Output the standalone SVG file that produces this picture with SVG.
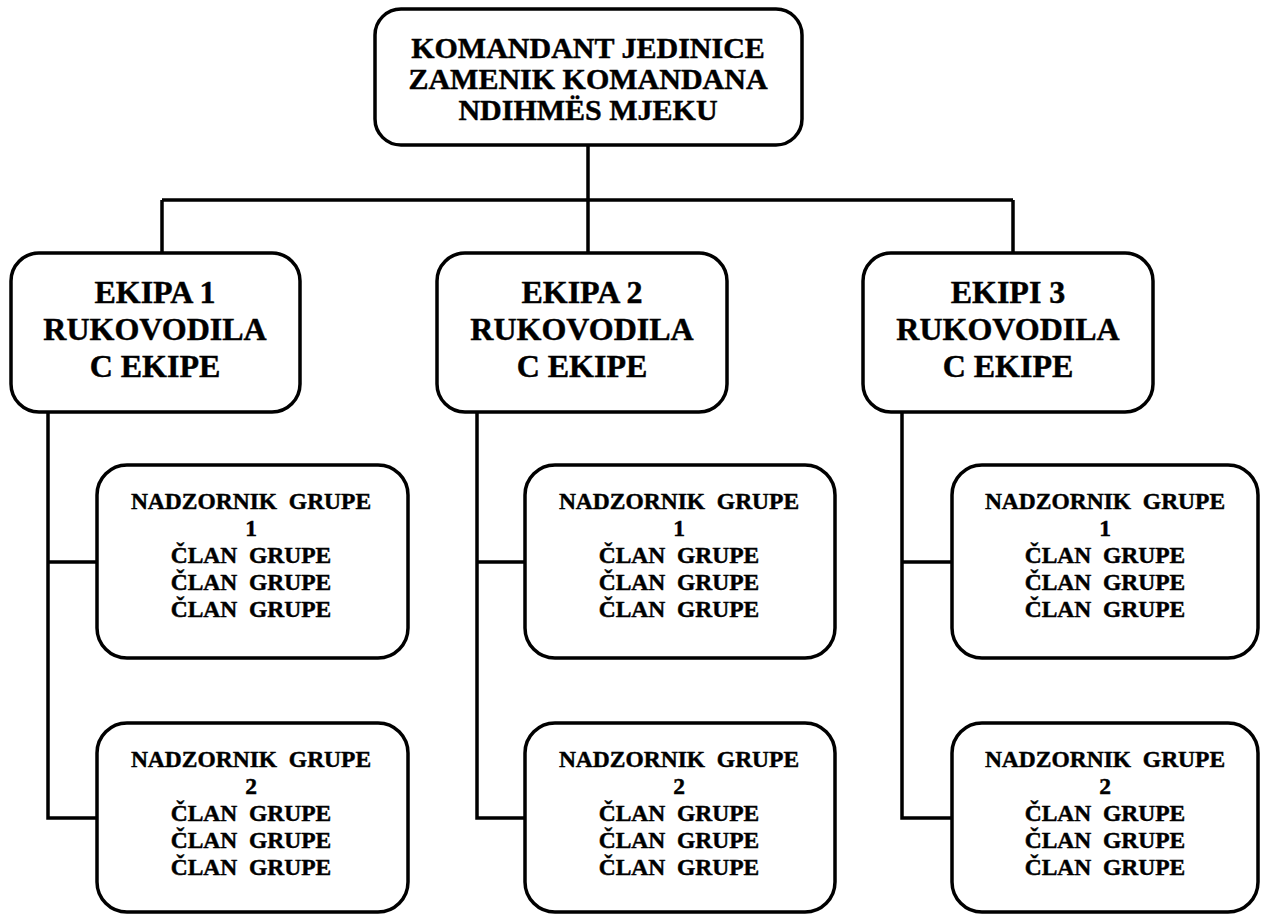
<svg xmlns="http://www.w3.org/2000/svg" width="1261" height="915" viewBox="0 0 1261 915">
<style>
.box{fill:#fff;stroke:#000;stroke-width:3.5}
.ln{fill:none;stroke:#000;stroke-width:3.5}
text{font-family:"Liberation Serif","Times New Roman",serif;font-weight:bold;fill:#000;stroke:#000;stroke-width:0.45;text-anchor:middle}
.t0{font-size:30px}
.t1{font-size:32px}
.t2{font-size:23.5px}
</style>
<g id="connectors">
<path class="ln" d="M588 145V200M162 200H1013M162 200V253M588 200V253M1013 200V253"/>
<path class="ln" d="M48 412V818H97M48 562H97"/>
<path class="ln" d="M477 412V818H525M477 562H525"/>
<path class="ln" d="M902 412V818H952M902 562H952"/>
</g>
<g id="top">
<rect class="box" x="375" y="9" width="427" height="136" rx="26"/>
<text class="t0" x="588" y="58">KOMANDANT JEDINICE</text>
<text class="t0" x="588" y="89">ZAMENIK KOMANDANA</text>
<text class="t0" x="588" y="120">NDIHMËS MJEKU</text>
</g>
<g id="ekipa1">
<rect class="box" x="11" y="253" width="289" height="159" rx="28"/>
<text class="t1" x="155" y="303">EKIPA 1</text>
<text class="t1" x="155" y="340">RUKOVODILA</text>
<text class="t1" x="155" y="377">C EKIPE</text>
</g>
<g id="ekipa2">
<rect class="box" x="437" y="253" width="290" height="159" rx="28"/>
<text class="t1" x="582" y="303">EKIPA 2</text>
<text class="t1" x="582" y="340">RUKOVODILA</text>
<text class="t1" x="582" y="377">C EKIPE</text>
</g>
<g id="ekipa3">
<rect class="box" x="863" y="253" width="290" height="159" rx="28"/>
<text class="t1" x="1008" y="303">EKIPI 3</text>
<text class="t1" x="1008" y="340">RUKOVODILA</text>
<text class="t1" x="1008" y="377">C EKIPE</text>
</g>
<g id="e1g1">
<rect class="box" x="97" y="465" width="311" height="193" rx="30"/>
<text class="t2" x="251" y="509" xml:space="preserve">NADZORNIK  GRUPE</text>
<text class="t2" x="251" y="536">1</text>
<text class="t2" x="251" y="563" xml:space="preserve">ČLAN  GRUPE</text>
<text class="t2" x="251" y="590" xml:space="preserve">ČLAN  GRUPE</text>
<text class="t2" x="251" y="617" xml:space="preserve">ČLAN  GRUPE</text>
</g>
<g id="e1g2">
<rect class="box" x="97" y="723" width="311" height="189" rx="30"/>
<text class="t2" x="251" y="767" xml:space="preserve">NADZORNIK  GRUPE</text>
<text class="t2" x="251" y="794">2</text>
<text class="t2" x="251" y="821" xml:space="preserve">ČLAN  GRUPE</text>
<text class="t2" x="251" y="848" xml:space="preserve">ČLAN  GRUPE</text>
<text class="t2" x="251" y="875" xml:space="preserve">ČLAN  GRUPE</text>
</g>
<g id="e2g1">
<rect class="box" x="525" y="465" width="310" height="193" rx="30"/>
<text class="t2" x="679" y="509" xml:space="preserve">NADZORNIK  GRUPE</text>
<text class="t2" x="679" y="536">1</text>
<text class="t2" x="679" y="563" xml:space="preserve">ČLAN  GRUPE</text>
<text class="t2" x="679" y="590" xml:space="preserve">ČLAN  GRUPE</text>
<text class="t2" x="679" y="617" xml:space="preserve">ČLAN  GRUPE</text>
</g>
<g id="e2g2">
<rect class="box" x="525" y="723" width="310" height="189" rx="30"/>
<text class="t2" x="679" y="767" xml:space="preserve">NADZORNIK  GRUPE</text>
<text class="t2" x="679" y="794">2</text>
<text class="t2" x="679" y="821" xml:space="preserve">ČLAN  GRUPE</text>
<text class="t2" x="679" y="848" xml:space="preserve">ČLAN  GRUPE</text>
<text class="t2" x="679" y="875" xml:space="preserve">ČLAN  GRUPE</text>
</g>
<g id="e3g1">
<rect class="box" x="952" y="465" width="306" height="193" rx="30"/>
<text class="t2" x="1105" y="509" xml:space="preserve">NADZORNIK  GRUPE</text>
<text class="t2" x="1105" y="536">1</text>
<text class="t2" x="1105" y="563" xml:space="preserve">ČLAN  GRUPE</text>
<text class="t2" x="1105" y="590" xml:space="preserve">ČLAN  GRUPE</text>
<text class="t2" x="1105" y="617" xml:space="preserve">ČLAN  GRUPE</text>
</g>
<g id="e3g2">
<rect class="box" x="952" y="723" width="306" height="189" rx="30"/>
<text class="t2" x="1105" y="767" xml:space="preserve">NADZORNIK  GRUPE</text>
<text class="t2" x="1105" y="794">2</text>
<text class="t2" x="1105" y="821" xml:space="preserve">ČLAN  GRUPE</text>
<text class="t2" x="1105" y="848" xml:space="preserve">ČLAN  GRUPE</text>
<text class="t2" x="1105" y="875" xml:space="preserve">ČLAN  GRUPE</text>
</g>
</svg>
